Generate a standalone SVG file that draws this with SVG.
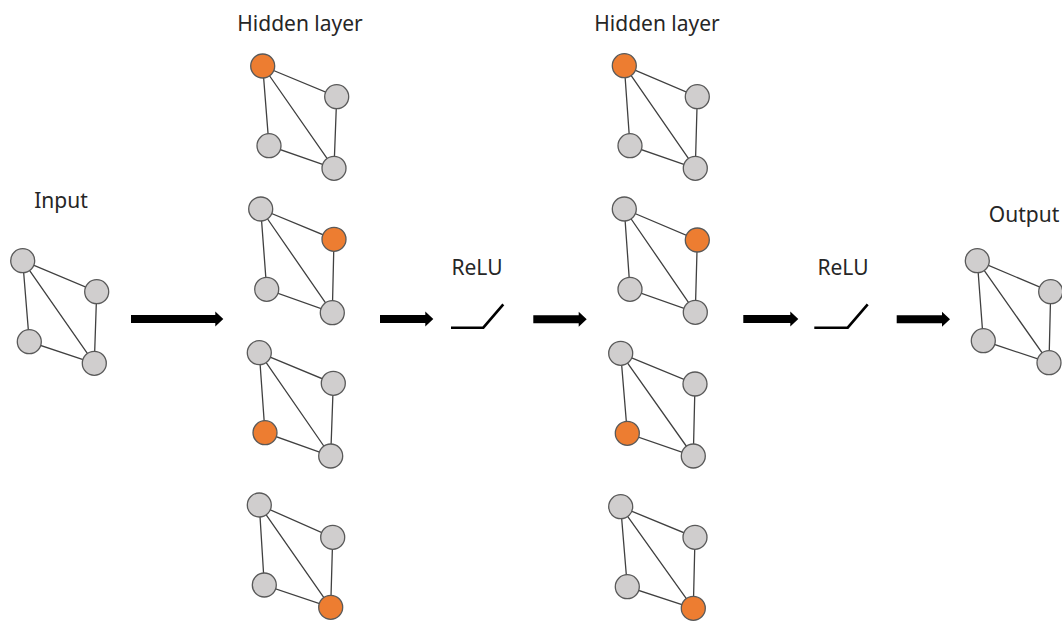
<svg xmlns="http://www.w3.org/2000/svg" width="1062" height="621" viewBox="0 0 1062 621">
<style>
.lbl{font-family:"Noto Sans","Open Sans","DejaVu Sans",sans-serif;font-size:21px;fill:#262626;text-anchor:middle}
.e{stroke:#404040;stroke-width:1.3;fill:none}
.n{fill:#D0CECE;stroke:#595959;stroke-width:1.3}
.o{fill:#ED7D31;stroke:#595959;stroke-width:1.3}
.arr{fill:#000}
.relu{stroke:#000;stroke-width:2.6;fill:none}
</style>
<rect width="1062" height="621" fill="#fff"/>
<g id="labels">
<text class="lbl" x="61" y="208">Input</text>
<text class="lbl" x="300" y="31">Hidden layer</text>
<text class="lbl" x="657" y="31">Hidden layer</text>
<text class="lbl" x="1024" y="222">Output</text>
<text class="lbl" x="477" y="275">ReLU</text>
<text class="lbl" x="843" y="275">ReLU</text>
</g>
<g id="input">
<path class="e" d="M22.7 260.7L96.7 291.7L94.3 363.3L29.3 341.7Z M22.7 260.7L94.3 363.3"/>
<circle class="n" cx="22.7" cy="260.7" r="12"/><circle class="n" cx="96.7" cy="291.7" r="12"/><circle class="n" cx="29.3" cy="341.7" r="12"/><circle class="n" cx="94.3" cy="363.3" r="12"/>
</g>
<g id="h1-1">
<path class="e" d="M262.7 66L336.7 96.7L334 168.3L269 145.7Z M262.7 66L334 168.3"/>
<circle class="o" cx="262.7" cy="66" r="12"/><circle class="n" cx="336.7" cy="96.7" r="12"/><circle class="n" cx="269" cy="145.7" r="12"/><circle class="n" cx="334" cy="168.3" r="12"/>
</g>
<g id="h1-2">
<path class="e" d="M260.7 209L334 239.3L332.3 312.7L266.7 289.3Z M260.7 209L332.3 312.7"/>
<circle class="n" cx="260.7" cy="209" r="12"/><circle class="o" cx="334" cy="239.3" r="12"/><circle class="n" cx="266.7" cy="289.3" r="12"/><circle class="n" cx="332.3" cy="312.7" r="12"/>
</g>
<g id="h1-3">
<path class="e" d="M259.3 352.7L333.3 383.3L330.7 456L265 432.7Z M259.3 352.7L330.7 456"/>
<circle class="n" cx="259.3" cy="352.7" r="12"/><circle class="n" cx="333.3" cy="383.3" r="12"/><circle class="o" cx="265" cy="432.7" r="12"/><circle class="n" cx="330.7" cy="456" r="12"/>
</g>
<g id="h1-4">
<path class="e" d="M259.3 505L332.7 537.3L330.7 607.3L264.3 585Z M259.3 505L330.7 607.3"/>
<circle class="n" cx="259.3" cy="505" r="12"/><circle class="n" cx="332.7" cy="537.3" r="12"/><circle class="n" cx="264.3" cy="585" r="12"/><circle class="o" cx="330.7" cy="607.3" r="12"/>
</g>
<g id="h2-1">
<path class="e" d="M624.3 65.7L697.3 96.7L695.3 168.3L630 145.7Z M624.3 65.7L695.3 168.3"/>
<circle class="o" cx="624.3" cy="65.7" r="12"/><circle class="n" cx="697.3" cy="96.7" r="12"/><circle class="n" cx="630" cy="145.7" r="12"/><circle class="n" cx="695.3" cy="168.3" r="12"/>
</g>
<g id="h2-2">
<path class="e" d="M624.3 209L697.3 240L695.3 312.3L630 289.3Z M624.3 209L695.3 312.3"/>
<circle class="n" cx="624.3" cy="209" r="12"/><circle class="o" cx="697.3" cy="240" r="12"/><circle class="n" cx="630" cy="289.3" r="12"/><circle class="n" cx="695.3" cy="312.3" r="12"/>
</g>
<g id="h2-3">
<path class="e" d="M620.7 353.3L695 384L693.3 456L627.3 433.3Z M620.7 353.3L693.3 456"/>
<circle class="n" cx="620.7" cy="353.3" r="12"/><circle class="n" cx="695" cy="384" r="12"/><circle class="o" cx="627.3" cy="433.3" r="12"/><circle class="n" cx="693.3" cy="456" r="12"/>
</g>
<g id="h2-4">
<path class="e" d="M620.7 506.7L695 537.3L693.3 608.3L627.3 586.7Z M620.7 506.7L693.3 608.3"/>
<circle class="n" cx="620.7" cy="506.7" r="12"/><circle class="n" cx="695" cy="537.3" r="12"/><circle class="n" cx="627.3" cy="586.7" r="12"/><circle class="o" cx="693.3" cy="608.3" r="12"/>
</g>
<g id="output">
<path class="e" d="M977.3 260.7L1050.7 291.7L1049 362.7L983.3 340.7Z M977.3 260.7L1049 362.7"/>
<circle class="n" cx="977.3" cy="260.7" r="12"/><circle class="n" cx="1050.7" cy="291.7" r="12"/><circle class="n" cx="983.3" cy="340.7" r="12"/><circle class="n" cx="1049" cy="362.7" r="12"/>
</g>
<g id="relu1"><path class="relu" d="M451 327.7H483.3L503.3 304.3"/></g>
<g id="relu2"><path class="relu" d="M814.3 327.7H847.7L867.7 304.3"/></g>
<g id="connectors">
<polygon class="arr" points="131,315 215.3,315 215.3,311.5 223.3,319 215.3,326.5 215.3,323 131,323"/>
<polygon class="arr" points="380,315 425.3,315 425.3,311.5 433.3,319 425.3,326.5 425.3,323 380,323"/>
<polygon class="arr" points="533.3,315.3 578.7,315.3 578.7,311.8 586.7,319.3 578.7,326.8 578.7,323.3 533.3,323.3"/>
<polygon class="arr" points="743.3,315 790.3,315 790.3,311.5 798.3,319 790.3,326.5 790.3,323 743.3,323"/>
<polygon class="arr" points="896.7,315.3 942,315.3 942,311.8 950,319.3 942,326.8 942,323.3 896.7,323.3"/>
</g>
</svg>
